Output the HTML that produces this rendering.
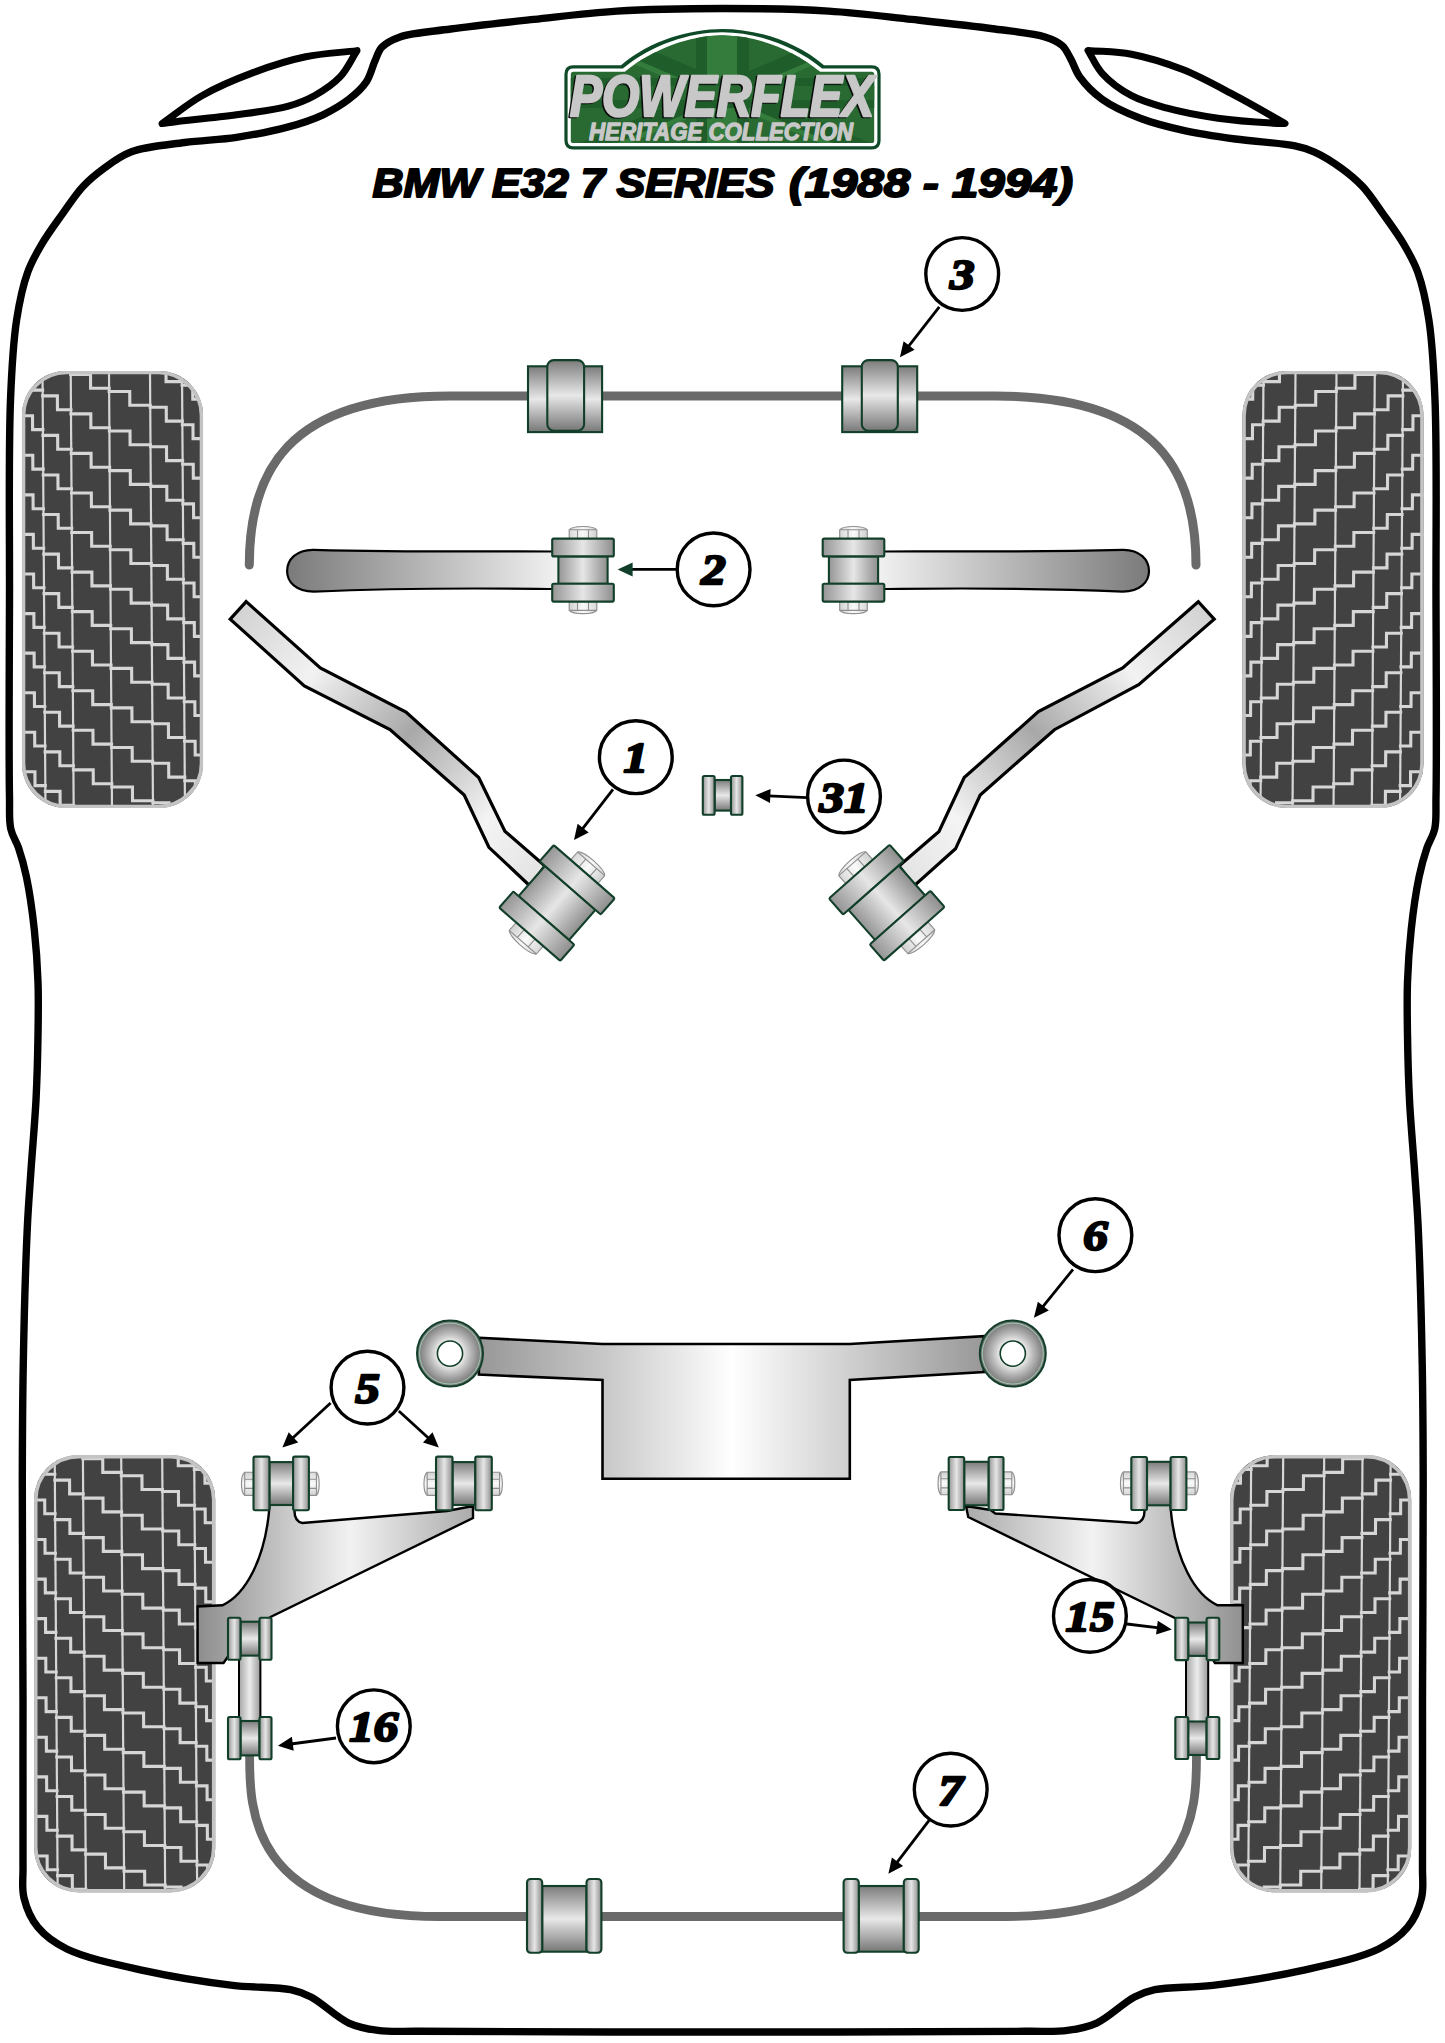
<!DOCTYPE html>
<html><head><meta charset="utf-8"><title>Powerflex BMW E32 7 Series</title>
<style>html,body{margin:0;padding:0;background:#fff;overflow:hidden}svg{display:block}</style>
</head><body>
<svg width="1445" height="2043" viewBox="0 0 1445 2043">
<defs>
<linearGradient id="gV" x1="0" y1="0" x2="0" y2="1">
 <stop offset="0" stop-color="#7c7c7c"/><stop offset="0.5" stop-color="#e8e8e8"/><stop offset="1" stop-color="#777"/>
</linearGradient>
<linearGradient id="gH" x1="0" y1="0" x2="1" y2="0">
 <stop offset="0" stop-color="#959595"/><stop offset="0.5" stop-color="#e6e6e6"/><stop offset="1" stop-color="#8e8e8e"/>
</linearGradient>
<linearGradient id="gBolt" x1="0" y1="0" x2="1" y2="0">
 <stop offset="0" stop-color="#d8d8d8"/><stop offset="0.5" stop-color="#fafafa"/><stop offset="1" stop-color="#d0d0d0"/>
</linearGradient>
<linearGradient id="gBoltV" x1="0" y1="0" x2="0" y2="1">
 <stop offset="0" stop-color="#d8d8d8"/><stop offset="0.5" stop-color="#fafafa"/><stop offset="1" stop-color="#d0d0d0"/>
</linearGradient>
<linearGradient id="gStrutL" x1="0" y1="0" x2="1" y2="0">
 <stop offset="0" stop-color="#7a7a7a"/><stop offset="1" stop-color="#fbfbfb"/>
</linearGradient>
<linearGradient id="gStrutR" x1="1" y1="0" x2="0" y2="0">
 <stop offset="0" stop-color="#7a7a7a"/><stop offset="1" stop-color="#fbfbfb"/>
</linearGradient>
<linearGradient id="gArmL" gradientUnits="userSpaceOnUse" x1="235" y1="605" x2="545" y2="880">
 <stop offset="0" stop-color="#d0d0d0"/><stop offset="0.25" stop-color="#f2f2f2"/><stop offset="0.52" stop-color="#a8a8a8"/><stop offset="0.8" stop-color="#f4f4f4"/><stop offset="1" stop-color="#e2e2e2"/>
</linearGradient>
<linearGradient id="gArmR" gradientUnits="userSpaceOnUse" x1="1210" y1="605" x2="900" y2="880">
 <stop offset="0" stop-color="#d0d0d0"/><stop offset="0.25" stop-color="#f2f2f2"/><stop offset="0.52" stop-color="#a8a8a8"/><stop offset="0.8" stop-color="#f4f4f4"/><stop offset="1" stop-color="#e2e2e2"/>
</linearGradient>
<linearGradient id="gSub" gradientUnits="userSpaceOnUse" x1="450" y1="0" x2="1013" y2="0">
 <stop offset="0" stop-color="#8c8c8c"/><stop offset="0.28" stop-color="#c9c9c9"/><stop offset="0.5" stop-color="#ffffff"/><stop offset="0.75" stop-color="#c6c6c6"/><stop offset="1" stop-color="#8c8c8c"/>
</linearGradient>
<radialGradient id="gRing" cx="0.5" cy="0.5" r="0.5">
 <stop offset="0.3" stop-color="#ffffff"/><stop offset="0.6" stop-color="#bdbdbd"/><stop offset="1" stop-color="#6f6f6f"/>
</radialGradient>
<linearGradient id="gRearArmL" gradientUnits="userSpaceOnUse" x1="200" y1="0" x2="500" y2="0">
 <stop offset="0" stop-color="#8f8f8f"/><stop offset="0.5" stop-color="#f2f2f2"/><stop offset="1" stop-color="#9c9c9c"/>
</linearGradient>
<linearGradient id="gRearArmR" gradientUnits="userSpaceOnUse" x1="1245" y1="0" x2="940" y2="0">
 <stop offset="0" stop-color="#8f8f8f"/><stop offset="0.5" stop-color="#f2f2f2"/><stop offset="1" stop-color="#9c9c9c"/>
</linearGradient>
<linearGradient id="gLink" x1="0" y1="0" x2="1" y2="0">
 <stop offset="0" stop-color="#a5a5a5"/><stop offset="0.5" stop-color="#ececec"/><stop offset="1" stop-color="#9a9a9a"/>
</linearGradient>
</defs>

<path d="M 722.8 8.5 C 687.4 8.5 649.9 9 616.8 11.1 C 587.4 12.9 561.5 16.4 533.8 19.4 C 506.1 22.4 475 25.7 450.7 29 C 431.7 31.6 412.4 32.6 400 36.9 C 392.1 39.7 386 42.8 381.8 47.3 C 378.2 51.1 377.2 56 374.9 61.1 C 372.1 67.3 370.5 75.7 366.3 81.9 C 362 88.4 355.7 94 349 99.2 C 341.5 105 332.5 110.3 323 114.8 C 312.5 119.7 301.2 123.4 288.4 126.9 C 273 131.1 253.9 134.7 236.5 137.3 C 219.3 139.9 202 140.1 184.6 142.5 C 167 144.9 145.9 146.4 131.5 151.8 C 120.3 156 112.1 162.4 103.8 168.4 C 96.1 174 89.6 179.3 83 186.4 C 75.6 194.3 69.1 204.6 62.3 214.1 C 55.3 223.9 47.4 234.5 41.5 244.6 C 36.1 253.8 31.6 261.5 27.7 272.2 C 22.8 285.7 19.4 301.9 16.6 320 C 13.1 343.1 11.8 367.3 10.5 400 C 8.4 451.6 9.7 533.6 9.5 600 C 9.3 665.9 8.7 759.3 9.5 797 C 9.8 812.2 8.8 819.9 10.8 829 C 12.4 836.3 16.1 840.8 18.5 847.8 C 21.4 856.3 24 865.6 26.4 876.8 C 29.5 891.7 32.4 912 34.3 929.6 C 36.2 947.1 37.4 964.5 38 982 C 38.6 999.6 38.3 1016.4 38 1035 C 37.7 1055.6 37.1 1077.9 36 1100 C 34.8 1122.9 32.5 1148 31 1170 C 29.7 1189.6 28.5 1203 27.4 1225.7 C 25.7 1261.3 24.1 1318.9 23.3 1362.8 C 22.5 1403.4 22.4 1434.8 22.3 1480 C 22.1 1541.9 22.9 1631.8 23 1700 C 23.1 1759.2 22.5 1832.2 23 1866 C 23.2 1880.8 21.5 1887.8 24 1898 C 26.5 1908.2 31 1918.9 37.8 1927.2 C 45 1936 54.1 1942.7 66.9 1949 C 86.1 1958.4 118.3 1964.8 145.3 1970.8 C 173.5 1977 206.4 1982.1 232.6 1985.3 C 253.9 1987.9 276.5 1986.7 290.7 1989.7 C 299.4 1991.6 303.5 1993.1 311 1997 C 322 2002.6 336.5 2017.5 348.8 2023.1 C 358.7 2027.6 367.3 2029 378 2030.4 C 390.6 2032.1 399.6 2031.1 420 2031.3 C 474.8 2032 621.8 2032 722.8 2032 C 823.7 2032 970.7 2032 1025.5 2031.3 C 1045.9 2031.1 1054.9 2032.1 1067.5 2030.4 C 1078.2 2029 1086.8 2027.6 1096.7 2023.1 C 1109 2017.5 1123.5 2002.6 1134.5 1997 C 1142 1993.1 1146.1 1991.6 1154.8 1989.7 C 1169 1986.7 1191.6 1987.9 1212.9 1985.3 C 1239.1 1982.1 1272 1977 1300.2 1970.8 C 1327.2 1964.8 1359.4 1958.4 1378.6 1949 C 1391.4 1942.7 1400.5 1936 1407.7 1927.2 C 1414.5 1918.9 1419 1908.2 1421.5 1898 C 1424 1887.8 1422.3 1880.8 1422.5 1866 C 1423 1832.2 1422.4 1759.2 1422.5 1700 C 1422.6 1631.8 1423.4 1541.9 1423.2 1480 C 1423.1 1434.8 1423 1403.4 1422.2 1362.8 C 1421.4 1318.9 1419.8 1261.3 1418.1 1225.7 C 1417 1203 1415.8 1189.6 1414.5 1170 C 1413 1148 1410.7 1122.9 1409.5 1100 C 1408.4 1077.9 1407.8 1055.6 1407.5 1035 C 1407.2 1016.4 1406.9 999.6 1407.5 982 C 1408.1 964.5 1409.3 947.1 1411.2 929.6 C 1413.1 912 1416 891.7 1419.1 876.8 C 1421.5 865.6 1424.1 856.3 1427 847.8 C 1429.4 840.8 1433.1 836.3 1434.7 829 C 1436.7 819.9 1435.7 812.2 1436 797 C 1436.8 759.3 1436.2 665.9 1436 600 C 1435.8 533.6 1437.1 451.6 1435 400 C 1433.7 367.3 1432.4 343.1 1428.9 320 C 1426.1 301.9 1422.7 285.7 1417.8 272.2 C 1413.9 261.5 1409.4 253.8 1404 244.6 C 1398.1 234.5 1390.2 223.9 1383.2 214.1 C 1376.4 204.6 1369.9 194.3 1362.5 186.4 C 1355.9 179.3 1349.4 174 1341.7 168.4 C 1333.4 162.4 1322.6 155.6 1314 151.8 C 1307.3 148.8 1303.2 147.6 1295 145.9 C 1280.7 142.9 1254.5 141.7 1235.3 139 C 1217.4 136.5 1199.8 134 1183.4 130.3 C 1168.2 126.9 1153.9 123.5 1140.2 118.2 C 1126.8 113.1 1112.6 106.8 1102.1 99.2 C 1093 92.6 1085 84.1 1079.6 76.7 C 1075.4 70.9 1074 64.8 1071 59.4 C 1068.2 54.5 1066.3 49.3 1062.3 45.6 C 1057.9 41.6 1052.5 39.3 1045 36.9 C 1032.8 33 1013.7 31.6 994.8 29 C 970.6 25.7 939.4 22.4 911.7 19.4 C 884 16.4 858.1 12.9 828.7 11.1 C 795.6 9 758.1 8.5 722.8 8.5 Z" fill="none" stroke="#000" stroke-width="7.4" stroke-linejoin="round"/>
<path d="M 162 123.6 C 175.3 114.3 187.3 104 201.9 95.7 C 217.7 86.7 236.3 78.9 253.8 72.4 C 270.9 66 288.3 60.4 305.7 56.8 C 322.7 53.2 339.9 52.7 357 50.6  L 357 50.6 C 351.4 59.3 347.3 69.2 340.3 76.7 C 333.2 84.3 323.4 90.7 314.4 95.7 C 306 100.3 298.7 103.2 288.4 106.1 C 274.2 110.1 254.5 112.3 236.5 114.8 C 217.1 117.5 189.1 120.1 176 121.7 C 169.7 122.5 166.7 123 162 123.6  Z" fill="#fff" stroke="#000" stroke-width="7" stroke-linejoin="round"/>
<path d="M 1088 50.5 C 1102.5 51.7 1116.5 51.3 1131.5 54.2 C 1148.2 57.4 1166.4 63.1 1183.4 69.8 C 1201 76.8 1218.3 86.7 1235.3 95.7 C 1252.2 104.6 1268.4 114.2 1285 123.5  L 1285 123.5 C 1281.1 123.4 1278.7 123.5 1273.4 123.2 C 1261.8 122.5 1236.1 120.8 1218 118.2 C 1200.3 115.7 1181.5 112.1 1166.1 107.9 C 1153.3 104.4 1142.2 101.4 1131.5 95.7 C 1120.8 89.9 1109.6 81.6 1102.1 73.3 C 1095.7 66.3 1092.7 58.1 1088 50.5  Z" fill="#fff" stroke="#000" stroke-width="7" stroke-linejoin="round"/>
<defs><clipPath id="tclip"><rect x="0" y="0" width="181" height="437" rx="44" ry="44"/></clipPath><g id="tyre"><rect x="0" y="0" width="181" height="437" rx="44" ry="44" fill="#424242"/><g clip-path="url(#tclip)"><g transform="skewX(0.39)" stroke="#d6d6d6" fill="none" stroke-linecap="square"><line x1="20.5" y1="0" x2="20.5" y2="437" stroke-width="2.2"/><line x1="48.7" y1="0" x2="48.7" y2="437" stroke-width="2.2"/><line x1="87" y1="0" x2="87" y2="437" stroke-width="2.2"/><line x1="128" y1="0" x2="128" y2="437" stroke-width="2.2"/><line x1="160" y1="0" x2="160" y2="437" stroke-width="2.2"/><path d="M0 -34.3 H10.2 V-20.5 H20.5 M0 5.2 H10.2 V19.1 H20.5 M0 44.8 H10.2 V58.6 H20.5 M0 84.3 H10.2 V98.1 H20.5 M0 123.9 H10.2 V137.7 H20.5 M0 163.4 H10.2 V177.2 H20.5 M0 203 H10.2 V216.8 H20.5 M0 242.6 H10.2 V256.4 H20.5 M0 282.1 H10.2 V295.9 H20.5 M0 321.7 H10.2 V335.5 H20.5 M0 361.2 H10.2 V375 H20.5 M0 400.8 H10.2 V414.6 H20.5 M0 440.3 H10.2 V454.1 H20.5 M20.5 -14.6 H35.2 V-0.8 H48.7 M20.5 24.9 H35.2 V38.7 H48.7 M20.5 64.4 H35.2 V78.2 H48.7 M20.5 104 H35.2 V117.8 H48.7 M20.5 143.5 H35.2 V157.3 H48.7 M20.5 183.1 H35.2 V196.9 H48.7 M20.5 222.6 H35.2 V236.4 H48.7 M20.5 262.2 H35.2 V276 H48.7 M20.5 301.8 H35.2 V315.6 H48.7 M20.5 341.3 H35.2 V355.1 H48.7 M20.5 380.9 H35.2 V394.7 H48.7 M20.5 420.4 H35.2 V434.2 H48.7 M20.5 460 H35.2 V473.8 H48.7 M48.7 -36.2 H68.5 V-22.4 H87 M48.7 3.4 H68.5 V17.2 H87 M48.7 42.9 H68.5 V56.7 H87 M48.7 82.4 H68.5 V96.2 H87 M48.7 122 H68.5 V135.8 H87 M48.7 161.5 H68.5 V175.3 H87 M48.7 201.1 H68.5 V214.9 H87 M48.7 240.6 H68.5 V254.4 H87 M48.7 280.2 H68.5 V294 H87 M48.7 319.8 H68.5 V333.6 H87 M48.7 359.3 H68.5 V373.1 H87 M48.7 398.9 H68.5 V412.7 H87 M48.7 438.4 H68.5 V452.2 H87 M87 -19 H107.6 V-5.2 H128 M87 20.5 H107.6 V34.3 H128 M87 60 H107.6 V73.8 H128 M87 99.6 H107.6 V113.4 H128 M87 139.1 H107.6 V152.9 H128 M87 178.7 H107.6 V192.5 H128 M87 218.2 H107.6 V232.1 H128 M87 257.8 H107.6 V271.6 H128 M87 297.4 H107.6 V311.2 H128 M87 336.9 H107.6 V350.7 H128 M87 376.5 H107.6 V390.3 H128 M87 416 H107.6 V429.8 H128 M87 455.6 H107.6 V469.4 H128 M128 -3.2 H144 V10.6 H160 M128 36.3 H144 V50.1 H160 M128 75.8 H144 V89.6 H160 M128 115.4 H144 V129.2 H160 M128 154.9 H144 V168.8 H160 M128 194.5 H144 V208.3 H160 M128 234.1 H144 V247.9 H160 M128 273.6 H144 V287.4 H160 M128 313.2 H144 V327 H160 M128 352.7 H144 V366.5 H160 M128 392.3 H144 V406.1 H160 M128 431.8 H144 V445.6 H160 M128 471.4 H144 V485.2 H160 M160 -25.3 H170.6 V-11.5 H181 M160 14.2 H170.6 V28.1 H181 M160 53.8 H170.6 V67.6 H181 M160 93.3 H170.6 V107.1 H181 M160 132.9 H170.6 V146.7 H181 M160 172.4 H170.6 V186.2 H181 M160 212 H170.6 V225.8 H181 M160 251.6 H170.6 V265.4 H181 M160 291.1 H170.6 V304.9 H181 M160 330.7 H170.6 V344.5 H181 M160 370.2 H170.6 V384 H181 M160 409.8 H170.6 V423.6 H181 M160 449.3 H170.6 V463.1 H181 " stroke-width="3.1"/></g></g><rect x="1.6" y="1.6" width="177.8" height="433.8" rx="43" ry="43" fill="none" stroke="#c4c4c4" stroke-width="3.4"/></g></defs>
<use href="#tyre" x="22" y="371"/>
<use href="#tyre" transform="translate(1423.5 371) scale(-1 1)"/>
<use href="#tyre" x="34.2" y="1455.2"/>
<use href="#tyre" transform="translate(1411.2 1455.2) scale(-1 1)"/>
<path d="M 249.3 565 C 249.3 475, 284.4 396, 450 396 L 995.5 396 C 1161 396, 1196 475, 1196 565" fill="none" stroke="#6a6a6a" stroke-width="9" stroke-linecap="round"/>
<rect x="528" y="366.3" width="74.1" height="65.8" fill="url(#gV)" stroke="#123f29" stroke-width="2.1"/><rect x="547.3" y="360.1" width="36.8" height="70.6" rx="6.5" fill="url(#gV)" stroke="#123f29" stroke-width="2.1"/>
<rect x="842.2" y="366.3" width="75" height="65.8" fill="url(#gV)" stroke="#123f29" stroke-width="2.1"/><rect x="861.8" y="360.1" width="36" height="70.6" rx="6.5" fill="url(#gV)" stroke="#123f29" stroke-width="2.1"/>
<path d="M 580 551.5 L 552 551.5 C 500 551, 420 552.5, 313.7 549.8 C 296 549.5, 287.1 560, 287.1 571 C 287.1 582, 296 591.6, 313.7 591.6 C 420 587, 500 588.5, 552 589 L 580 589 Z" fill="url(#gStrutL)" stroke="#000" stroke-width="2.2"/>
<path d="M 856 551.5 L 884.5 551.5 C 936 551, 1016 552.5, 1122.8 549.8 C 1140 549.5, 1149 560, 1149 571 C 1149 582, 1140 591.6, 1122.8 591.6 C 1016 587, 936 588.5, 884.5 589 L 856 589 Z" fill="url(#gStrutR)" stroke="#000" stroke-width="2.2"/>
<g transform="translate(583 570.1) rotate(0)"><g transform="translate(0 -31.5) rotate(0)"><path d="M -13.8 1 L -13.8 -8.8 C -10.4 -13.2 10.4 -13.2 13.8 -8.8 L 13.8 1 Z" fill="url(#gBolt)" stroke="#8f8f8f" stroke-width="1.15"/><path d="M -13.8 -8.8 L 13.8 -8.8 M -5.5 -8.8 L -5.5 1 M 5.5 -8.8 L 5.5 1" stroke="#8f8f8f" stroke-width="1.1" fill="none"/></g><g transform="translate(0 31.5) rotate(180)"><path d="M -13.8 1 L -13.8 -8.8 C -10.4 -13.2 10.4 -13.2 13.8 -8.8 L 13.8 1 Z" fill="url(#gBolt)" stroke="#8f8f8f" stroke-width="1.15"/><path d="M -13.8 -8.8 L 13.8 -8.8 M -5.5 -8.8 L -5.5 1 M 5.5 -8.8 L 5.5 1" stroke="#8f8f8f" stroke-width="1.1" fill="none"/></g><rect x="-24.6" y="-13.7" width="49.2" height="27.4" fill="url(#gH)" stroke="#123f29" stroke-width="2.1"/><rect x="-30.8" y="-31.5" width="61.6" height="17.8" rx="1.5" fill="url(#gH)" stroke="#123f29" stroke-width="2.1"/><rect x="-30.8" y="13.7" width="61.6" height="17.8" rx="1.5" fill="url(#gH)" stroke="#123f29" stroke-width="2.1"/></g>
<g transform="translate(853.5 570.1) rotate(0)"><g transform="translate(0 -31.5) rotate(0)"><path d="M -13.8 1 L -13.8 -8.8 C -10.4 -13.2 10.4 -13.2 13.8 -8.8 L 13.8 1 Z" fill="url(#gBolt)" stroke="#8f8f8f" stroke-width="1.15"/><path d="M -13.8 -8.8 L 13.8 -8.8 M -5.5 -8.8 L -5.5 1 M 5.5 -8.8 L 5.5 1" stroke="#8f8f8f" stroke-width="1.1" fill="none"/></g><g transform="translate(0 31.5) rotate(180)"><path d="M -13.8 1 L -13.8 -8.8 C -10.4 -13.2 10.4 -13.2 13.8 -8.8 L 13.8 1 Z" fill="url(#gBolt)" stroke="#8f8f8f" stroke-width="1.15"/><path d="M -13.8 -8.8 L 13.8 -8.8 M -5.5 -8.8 L -5.5 1 M 5.5 -8.8 L 5.5 1" stroke="#8f8f8f" stroke-width="1.1" fill="none"/></g><rect x="-24.6" y="-13.7" width="49.2" height="27.4" fill="url(#gH)" stroke="#123f29" stroke-width="2.1"/><rect x="-30.8" y="-31.5" width="61.6" height="17.8" rx="1.5" fill="url(#gH)" stroke="#123f29" stroke-width="2.1"/><rect x="-30.8" y="13.7" width="61.6" height="17.8" rx="1.5" fill="url(#gH)" stroke="#123f29" stroke-width="2.1"/></g>
<path d="M 246.2 601.6 L 320.3 667.9 L 406 712.1 L 478.7 777.5 L 504.9 831.3 L 545 866 L 530 886 L 488.9 847.3 L 464.2 795 L 390 729.5 L 304.3 685.9 L 230.2 619.1 Z" fill="url(#gArmL)" stroke="#000" stroke-width="3.2" stroke-linejoin="miter"/>
<path d="M 1198.3 601.7 L 1122.7 668 L 1038.4 711.6 L 964.2 777.6 L 939 831.4 L 899 866 L 914 886 L 955.5 848.8 L 980.2 795 L 1054.4 729.7 L 1138.7 684.6 L 1214.2 619.2 Z" fill="url(#gArmR)" stroke="#000" stroke-width="3.2" stroke-linejoin="miter"/>
<g transform="translate(557 903) rotate(41.1)"><g transform="translate(0 -41.5) rotate(0)"><path d="M -18 1 L -18 -10.5 C -13.5 -15.7 13.5 -15.7 18 -10.5 L 18 1 Z" fill="url(#gBolt)" stroke="#8f8f8f" stroke-width="1.15"/><path d="M -18 -10.5 L 18 -10.5 M -7.2 -10.5 L -7.2 1 M 7.2 -10.5 L 7.2 1" stroke="#8f8f8f" stroke-width="1.1" fill="none"/></g><g transform="translate(0 41.5) rotate(180)"><path d="M -18 1 L -18 -10.5 C -13.5 -15.7 13.5 -15.7 18 -10.5 L 18 1 Z" fill="url(#gBolt)" stroke="#8f8f8f" stroke-width="1.15"/><path d="M -18 -10.5 L 18 -10.5 M -7.2 -10.5 L -7.2 1 M 7.2 -10.5 L 7.2 1" stroke="#8f8f8f" stroke-width="1.1" fill="none"/></g><rect x="-33.5" y="-20" width="67" height="40" fill="url(#gH)" stroke="#123f29" stroke-width="2.1"/><rect x="-40.5" y="-41.5" width="81" height="21.5" rx="1.5" fill="url(#gH)" stroke="#123f29" stroke-width="2.1"/><rect x="-40.5" y="20" width="81" height="21.5" rx="1.5" fill="url(#gH)" stroke="#123f29" stroke-width="2.1"/></g>
<g transform="translate(886.8 902.7) rotate(-41.5)"><g transform="translate(0 -41.5) rotate(0)"><path d="M -18 1 L -18 -10.5 C -13.5 -15.7 13.5 -15.7 18 -10.5 L 18 1 Z" fill="url(#gBolt)" stroke="#8f8f8f" stroke-width="1.15"/><path d="M -18 -10.5 L 18 -10.5 M -7.2 -10.5 L -7.2 1 M 7.2 -10.5 L 7.2 1" stroke="#8f8f8f" stroke-width="1.1" fill="none"/></g><g transform="translate(0 41.5) rotate(180)"><path d="M -18 1 L -18 -10.5 C -13.5 -15.7 13.5 -15.7 18 -10.5 L 18 1 Z" fill="url(#gBolt)" stroke="#8f8f8f" stroke-width="1.15"/><path d="M -18 -10.5 L 18 -10.5 M -7.2 -10.5 L -7.2 1 M 7.2 -10.5 L 7.2 1" stroke="#8f8f8f" stroke-width="1.1" fill="none"/></g><rect x="-33.5" y="-20" width="67" height="40" fill="url(#gH)" stroke="#123f29" stroke-width="2.1"/><rect x="-40.5" y="-41.5" width="81" height="21.5" rx="1.5" fill="url(#gH)" stroke="#123f29" stroke-width="2.1"/><rect x="-40.5" y="20" width="81" height="21.5" rx="1.5" fill="url(#gH)" stroke="#123f29" stroke-width="2.1"/></g>
<rect x="714.6" y="780" width="16.4" height="30.6" fill="url(#gV)" stroke="#123f29" stroke-width="2.1"/>
<rect x="702.8" y="776" width="11.8" height="38.8" rx="1.5" fill="url(#gH)" stroke="#123f29" stroke-width="2.1"/>
<rect x="731" y="776" width="11.4" height="38.8" rx="1.5" fill="url(#gH)" stroke="#123f29" stroke-width="2.1"/>
<path d="M 478.9 1337.8 L 602.5 1344 L 849.8 1344 L 983.9 1336.2 L 983.9 1372 L 849.8 1380 L 849.8 1478.8 L 602.5 1478.8 L 602.5 1380 L 478.9 1374.6 Z" fill="url(#gSub)" stroke="#000" stroke-width="2.6" stroke-linejoin="miter"/>
<circle cx="450" cy="1353.6" r="33" fill="url(#gRing)" stroke="#123f29" stroke-width="2"/>
<circle cx="450" cy="1353.6" r="30.5" fill="none" stroke="#9fc9b0" stroke-width="1"/>
<circle cx="450" cy="1353.6" r="12.6" fill="#fff" stroke="#123f29" stroke-width="1.6"/>
<circle cx="1012.8" cy="1353.6" r="33" fill="url(#gRing)" stroke="#123f29" stroke-width="2"/>
<circle cx="1012.8" cy="1353.6" r="30.5" fill="none" stroke="#9fc9b0" stroke-width="1"/>
<circle cx="1012.8" cy="1353.6" r="12.6" fill="#fff" stroke="#123f29" stroke-width="1.6"/>
<path d="M 269.4 1495 L 269.4 1508 C 265 1560, 245 1595, 222.4 1605.3 L 197.6 1606.5 L 197.6 1663 L 223.5 1663 L 229 1655 L 270.6 1617 L 473 1518 L 473 1506 L 447 1511 L 302.4 1523 C 296 1522, 294 1516, 294.5 1508 L 294.5 1495 Z" fill="url(#gRearArmL)" stroke="#000" stroke-width="2.4" stroke-linejoin="miter"/>
<path d="M 1170.6 1495 L 1170.6 1508 C 1175 1560, 1195 1595, 1217.6 1605.3 L 1242.8 1605.3 L 1242.8 1663 L 1215 1663 L 1210 1655 L 1175.3 1618.2 L 968.2 1517 L 966 1506 L 990.6 1510 L 995.3 1513.5 L 1136.5 1523 C 1143 1522, 1145 1516, 1144.5 1508 L 1144.5 1495 Z" fill="url(#gRearArmR)" stroke="#000" stroke-width="2.4" stroke-linejoin="miter"/>
<g transform="translate(253.5 1483.8) rotate(-90)"><path d="M -11.6 1 L -11.6 -8.8 C -8.7 -13.1 8.7 -13.1 11.6 -8.8 L 11.6 1 Z" fill="url(#gBolt)" stroke="#8f8f8f" stroke-width="1.15"/><path d="M -11.6 -8.8 L 11.6 -8.8 M -4.6 -8.8 L -4.6 1 M 4.6 -8.8 L 4.6 1" stroke="#8f8f8f" stroke-width="1.1" fill="none"/></g><g transform="translate(308.9 1483.8) rotate(90)"><path d="M -11.6 1 L -11.6 -7.5 C -8.7 -11.2 8.7 -11.2 11.6 -7.5 L 11.6 1 Z" fill="url(#gBolt)" stroke="#8f8f8f" stroke-width="1.15"/><path d="M -11.6 -7.5 L 11.6 -7.5 M -4.6 -7.5 L -4.6 1 M 4.6 -7.5 L 4.6 1" stroke="#8f8f8f" stroke-width="1.1" fill="none"/></g><rect x="269.4" y="1462.1" width="23.7" height="42.9" fill="url(#gV)" stroke="#123f29" stroke-width="2.1"/><rect x="253.5" y="1456.6" width="15.9" height="53.6" rx="1.6" fill="url(#gH)" stroke="#123f29" stroke-width="2.1"/><rect x="293.1" y="1456.6" width="15.8" height="53.6" rx="1.6" fill="url(#gH)" stroke="#123f29" stroke-width="2.1"/>
<g transform="translate(436 1483.8) rotate(-90)"><path d="M -11.6 1 L -11.6 -8.8 C -8.7 -13.1 8.7 -13.1 11.6 -8.8 L 11.6 1 Z" fill="url(#gBolt)" stroke="#8f8f8f" stroke-width="1.15"/><path d="M -11.6 -8.8 L 11.6 -8.8 M -4.6 -8.8 L -4.6 1 M 4.6 -8.8 L 4.6 1" stroke="#8f8f8f" stroke-width="1.1" fill="none"/></g><g transform="translate(491.8 1483.8) rotate(90)"><path d="M -11.6 1 L -11.6 -7.7 C -8.7 -11.5 8.7 -11.5 11.6 -7.7 L 11.6 1 Z" fill="url(#gBolt)" stroke="#8f8f8f" stroke-width="1.15"/><path d="M -11.6 -7.7 L 11.6 -7.7 M -4.6 -7.7 L -4.6 1 M 4.6 -7.7 L 4.6 1" stroke="#8f8f8f" stroke-width="1.1" fill="none"/></g><rect x="452.5" y="1462.1" width="22.8" height="42.9" fill="url(#gV)" stroke="#123f29" stroke-width="2.1"/><rect x="436" y="1456.6" width="16.5" height="53.6" rx="1.6" fill="url(#gH)" stroke="#123f29" stroke-width="2.1"/><rect x="475.3" y="1456.6" width="16.5" height="53.6" rx="1.6" fill="url(#gH)" stroke="#123f29" stroke-width="2.1"/>
<g transform="translate(948.7 1483.3) rotate(-90)"><path d="M -11.4 1 L -11.4 -7.8 C -8.5 -11.6 8.5 -11.6 11.4 -7.8 L 11.4 1 Z" fill="url(#gBolt)" stroke="#8f8f8f" stroke-width="1.15"/><path d="M -11.4 -7.8 L 11.4 -7.8 M -4.6 -7.8 L -4.6 1 M 4.6 -7.8 L 4.6 1" stroke="#8f8f8f" stroke-width="1.1" fill="none"/></g><g transform="translate(1003.5 1483.3) rotate(90)"><path d="M -11.4 1 L -11.4 -8.3 C -8.5 -12.3 8.5 -12.3 11.4 -8.3 L 11.4 1 Z" fill="url(#gBolt)" stroke="#8f8f8f" stroke-width="1.15"/><path d="M -11.4 -8.3 L 11.4 -8.3 M -4.6 -8.3 L -4.6 1 M 4.6 -8.3 L 4.6 1" stroke="#8f8f8f" stroke-width="1.1" fill="none"/></g><rect x="964.2" y="1461.8" width="24.5" height="43.5" fill="url(#gV)" stroke="#123f29" stroke-width="2.1"/><rect x="948.7" y="1457" width="15.5" height="53" rx="1.6" fill="url(#gH)" stroke="#123f29" stroke-width="2.1"/><rect x="988.7" y="1457" width="14.8" height="53" rx="1.6" fill="url(#gH)" stroke="#123f29" stroke-width="2.1"/>
<g transform="translate(1131.3 1483.3) rotate(-90)"><path d="M -11.4 1 L -11.4 -7.9 C -8.5 -11.8 8.5 -11.8 11.4 -7.9 L 11.4 1 Z" fill="url(#gBolt)" stroke="#8f8f8f" stroke-width="1.15"/><path d="M -11.4 -7.9 L 11.4 -7.9 M -4.6 -7.9 L -4.6 1 M 4.6 -7.9 L 4.6 1" stroke="#8f8f8f" stroke-width="1.1" fill="none"/></g><g transform="translate(1186.4 1483.3) rotate(90)"><path d="M -11.4 1 L -11.4 -8.7 C -8.5 -13 8.5 -13 11.4 -8.7 L 11.4 1 Z" fill="url(#gBolt)" stroke="#8f8f8f" stroke-width="1.15"/><path d="M -11.4 -8.7 L 11.4 -8.7 M -4.6 -8.7 L -4.6 1 M 4.6 -8.7 L 4.6 1" stroke="#8f8f8f" stroke-width="1.1" fill="none"/></g><rect x="1147" y="1461.8" width="23.6" height="43.5" fill="url(#gV)" stroke="#123f29" stroke-width="2.1"/><rect x="1131.3" y="1457" width="15.7" height="53" rx="1.6" fill="url(#gH)" stroke="#123f29" stroke-width="2.1"/><rect x="1170.6" y="1457" width="15.8" height="53" rx="1.6" fill="url(#gH)" stroke="#123f29" stroke-width="2.1"/>
<path d="M 249.6 1755 C 249.6 1806, 248 1916.5, 440 1916.5 L 1006 1916.5 C 1198 1916.5, 1196.5 1806, 1196.5 1755" fill="none" stroke="#6a6a6a" stroke-width="8.8"/>
<rect x="239" y="1645" width="21.4" height="85" fill="url(#gLink)" stroke="#000" stroke-width="2"/>
<rect x="1186" y="1645" width="22.2" height="85" fill="url(#gLink)" stroke="#000" stroke-width="2"/>
<rect x="240.5" y="1621.7" width="19" height="33.9" fill="url(#gV)" stroke="#123f29" stroke-width="2.1"/><rect x="228" y="1617.8" width="12.5" height="42" rx="1.6" fill="url(#gH)" stroke="#123f29" stroke-width="2.1"/><rect x="259.5" y="1617.8" width="12" height="42" rx="1.6" fill="url(#gH)" stroke="#123f29" stroke-width="2.1"/>
<rect x="240.5" y="1721" width="19" height="34.4" fill="url(#gV)" stroke="#123f29" stroke-width="2.1"/><rect x="228" y="1717" width="12.5" height="42.3" rx="1.6" fill="url(#gH)" stroke="#123f29" stroke-width="2.1"/><rect x="259.5" y="1717" width="12" height="42.3" rx="1.6" fill="url(#gH)" stroke="#123f29" stroke-width="2.1"/>
<rect x="1188.2" y="1622.5" width="18.4" height="33.4" fill="url(#gV)" stroke="#123f29" stroke-width="2.1"/><rect x="1175.3" y="1617.8" width="12.9" height="42.3" rx="1.6" fill="url(#gH)" stroke="#123f29" stroke-width="2.1"/><rect x="1206.6" y="1617.8" width="12.7" height="42.3" rx="1.6" fill="url(#gH)" stroke="#123f29" stroke-width="2.1"/>
<rect x="1188.2" y="1721.5" width="18.4" height="33.5" fill="url(#gV)" stroke="#123f29" stroke-width="2.1"/><rect x="1175.3" y="1717" width="12.9" height="42" rx="1.6" fill="url(#gH)" stroke="#123f29" stroke-width="2.1"/><rect x="1206.6" y="1717" width="12.7" height="42" rx="1.6" fill="url(#gH)" stroke="#123f29" stroke-width="2.1"/>
<rect x="542.2" y="1886" width="44.3" height="65.7" fill="url(#gV)" stroke="#123f29" stroke-width="2.1"/><rect x="527" y="1879" width="15.2" height="73.7" rx="3.5" fill="url(#gH)" stroke="#123f29" stroke-width="2.1"/><rect x="586.5" y="1879" width="14.9" height="73.7" rx="3.5" fill="url(#gH)" stroke="#123f29" stroke-width="2.1"/>
<rect x="858.8" y="1886" width="45" height="65.7" fill="url(#gV)" stroke="#123f29" stroke-width="2.1"/><rect x="843.6" y="1879" width="15.2" height="73.7" rx="3.5" fill="url(#gH)" stroke="#123f29" stroke-width="2.1"/><rect x="903.8" y="1879" width="14.9" height="73.7" rx="3.5" fill="url(#gH)" stroke="#123f29" stroke-width="2.1"/>
<path d="M 573.4 149.4 L 871.6 149.4 Q 880.6 149.4 880.6 140.4 L 880.6 74.3 Q 880.6 65.3 871.6 65.3 L 824 65.3 C 795 40.3 755 29 722.5 29 C 690 29 650 40.3 621 65.3 L 573.4 65.3 Q 564.4 65.3 564.4 74.3 L 564.4 140.4 Q 564.4 149.4 573.4 149.4 Z" fill="#0e4a27"/>
<path d="M 573.4 146.2 L 871.6 146.2 Q 877.4 146.2 877.4 140.4 L 877.4 74.3 Q 877.4 68.5 871.6 68.5 L 822.1 68.5 C 793.1 44.5 755.6 32.2 722.5 32.2 C 689.4 32.2 651.9 44.5 622.9 68.5 L 573.4 68.5 Q 567.6 68.5 567.6 74.3 L 567.6 140.4 Q 567.6 146.2 573.4 146.2 Z" fill="#fff"/>
<defs><clipPath id="plateclip"><path d="M 573.4 143 L 871.6 143 Q 874.2 143 874.2 140.4 L 874.2 74.3 Q 874.2 71.7 871.6 71.7 L 820.2 71.7 C 791.2 48.6 756.3 35.4 722.5 35.4 C 688.7 35.4 653.8 48.6 624.8 71.7 L 573.4 71.7 Q 570.8 71.7 570.8 74.3 L 570.8 140.4 Q 570.8 143 573.4 143 Z"/></clipPath></defs>
<g clip-path="url(#plateclip)"><rect x="560" y="20" width="330" height="140" fill="#296a32"/><path d="M 560 20 L 890 160 M 890 20 L 560 160" stroke="#1f5d2a" stroke-width="16"/><path d="M 560 30 L 890 170 M 890 30 L 560 170" stroke="#347c3c" stroke-width="5"/><rect x="696" y="20" width="53" height="140" fill="#1f5d2a"/><rect x="707" y="20" width="30" height="140" fill="#347c3c"/><rect x="560" y="78" width="330" height="30" fill="#1f5d2a"/><rect x="560" y="86" width="330" height="14" fill="#296a32"/></g>
<text x="570" y="115.5" style="font-family:&quot;Liberation Sans&quot;,sans-serif;font-weight:bold;font-style:italic;font-size:57px" fill="#0a0a0a" stroke="#0a0a0a" stroke-width="2.6" stroke-linejoin="round" textLength="304" lengthAdjust="spacingAndGlyphs" transform="translate(-1.6 1.8)">POWERFLEX</text>
<text x="570" y="115.5" style="font-family:&quot;Liberation Sans&quot;,sans-serif;font-weight:bold;font-style:italic;font-size:57px" fill="#c8c8c8" stroke="#c8c8c8" stroke-width="2.6" stroke-linejoin="round" textLength="304" lengthAdjust="spacingAndGlyphs">POWERFLEX</text>
<text x="589" y="140" style="font-family:&quot;Liberation Sans&quot;,sans-serif;font-weight:bold;font-style:italic;font-size:23.5px" fill="#c8c8c8" stroke="#c8c8c8" stroke-width="1.3" stroke-linejoin="round" textLength="264" lengthAdjust="spacingAndGlyphs">HERITAGE COLLECTION</text>
<text x="372.5" y="197.4" style="font-family:&quot;Liberation Sans&quot;,sans-serif;font-weight:bold;font-style:italic;font-size:40px" fill="#000" stroke="#000" stroke-width="2" stroke-linejoin="round" lengthAdjust="spacingAndGlyphs" textLength="402">BMW E32 7 SERIES</text>
<text x="789" y="197.4" style="font-family:&quot;Liberation Sans&quot;,sans-serif;font-weight:bold;font-style:italic;font-size:40px" fill="#000" stroke="#000" stroke-width="2" stroke-linejoin="round" lengthAdjust="spacingAndGlyphs" textLength="284">(1988 - 1994)</text>
<line x1="613" y1="789.4" x2="581.9" y2="829.7" stroke="#000" stroke-width="2.8"/><path d="M 574 840 L 577.6 823.8 L 588.7 832.4 Z" fill="#000"/><circle cx="635.8" cy="757.2" r="36.4" fill="#fff" stroke="#000" stroke-width="3.4"/><text x="0" y="15" transform="translate(635.8 757.2) scale(1.14 1)" text-anchor="middle" style="font-family:&quot;Liberation Serif&quot;,serif;font-weight:bold;font-style:italic;font-size:43px" fill="#000" stroke="#000" stroke-width="2.4" stroke-linejoin="round">1</text>
<line x1="676" y1="569.4" x2="630.6" y2="569.4" stroke="#000" stroke-width="2.8"/><path d="M 617.6 569.4 L 632.6 562.4 L 632.6 576.4 Z" fill="#123f29"/><circle cx="713.6" cy="569.4" r="36.4" fill="#fff" stroke="#000" stroke-width="3.4"/><text x="0" y="15" transform="translate(713.6 569.4) scale(1.14 1)" text-anchor="middle" style="font-family:&quot;Liberation Serif&quot;,serif;font-weight:bold;font-style:italic;font-size:43px" fill="#000" stroke="#000" stroke-width="2.4" stroke-linejoin="round">2</text>
<line x1="939.3" y1="306.8" x2="907.9" y2="347.1" stroke="#000" stroke-width="2.8"/><path d="M 899.9 357.3 L 903.6 341.2 L 914.6 349.8 Z" fill="#000"/><circle cx="962.2" cy="274" r="36.4" fill="#fff" stroke="#000" stroke-width="3.4"/><text x="0" y="15" transform="translate(962.2 274) scale(1.14 1)" text-anchor="middle" style="font-family:&quot;Liberation Serif&quot;,serif;font-weight:bold;font-style:italic;font-size:43px" fill="#000" stroke="#000" stroke-width="2.4" stroke-linejoin="round">3</text>
<line x1="807" y1="797.6" x2="768.3" y2="795.9" stroke="#000" stroke-width="2.8"/><path d="M 755.3 795.3 L 770.6 789 L 770 803 Z" fill="#000"/><circle cx="844" cy="796.5" r="36.4" fill="#fff" stroke="#000" stroke-width="3.4"/><text x="0" y="15" transform="translate(844 796.5) scale(1.14 1)" text-anchor="middle" style="font-family:&quot;Liberation Serif&quot;,serif;font-weight:bold;font-style:italic;font-size:43px" fill="#000" stroke="#000" stroke-width="2.4" stroke-linejoin="round">31</text>
<line x1="330.6" y1="1403" x2="291.9" y2="1438.8" stroke="#000" stroke-width="2.8"/><path d="M 282.4 1447.6 L 288.7 1432.3 L 298.2 1442.6 Z" fill="#000"/><line x1="398.8" y1="1411" x2="429.2" y2="1438.8" stroke="#000" stroke-width="2.8"/><path d="M 438.8 1447.6 L 423 1442.6 L 432.5 1432.3 Z" fill="#000"/><circle cx="367.5" cy="1387.6" r="36.4" fill="#fff" stroke="#000" stroke-width="3.4"/><text x="0" y="15" transform="translate(367.5 1387.6) scale(1.14 1)" text-anchor="middle" style="font-family:&quot;Liberation Serif&quot;,serif;font-weight:bold;font-style:italic;font-size:43px" fill="#000" stroke="#000" stroke-width="2.4" stroke-linejoin="round">5</text>
<line x1="1073" y1="1269.4" x2="1042.1" y2="1307.7" stroke="#000" stroke-width="2.8"/><path d="M 1033.9 1317.8 L 1037.9 1301.7 L 1048.8 1310.5 Z" fill="#000"/><circle cx="1095.4" cy="1235.2" r="36.4" fill="#fff" stroke="#000" stroke-width="3.4"/><text x="0" y="15" transform="translate(1095.4 1235.2) scale(1.14 1)" text-anchor="middle" style="font-family:&quot;Liberation Serif&quot;,serif;font-weight:bold;font-style:italic;font-size:43px" fill="#000" stroke="#000" stroke-width="2.4" stroke-linejoin="round">6</text>
<line x1="929.1" y1="1820.4" x2="896.3" y2="1863.4" stroke="#000" stroke-width="2.8"/><path d="M 888.4 1873.7 L 891.9 1857.5 L 903.1 1866 Z" fill="#000"/><circle cx="950.7" cy="1789.6" r="36.4" fill="#fff" stroke="#000" stroke-width="3.4"/><text x="0" y="15" transform="translate(950.7 1789.6) scale(1.14 1)" text-anchor="middle" style="font-family:&quot;Liberation Serif&quot;,serif;font-weight:bold;font-style:italic;font-size:43px" fill="#000" stroke="#000" stroke-width="2.4" stroke-linejoin="round">7</text>
<line x1="1127" y1="1624" x2="1158.9" y2="1627.9" stroke="#000" stroke-width="2.8"/><path d="M 1171.8 1629.5 L 1156.1 1634.6 L 1157.8 1620.7 Z" fill="#000"/><circle cx="1089.9" cy="1615.9" r="36.4" fill="#fff" stroke="#000" stroke-width="3.4"/><text x="0" y="15" transform="translate(1089.9 1615.9) scale(1.14 1)" text-anchor="middle" style="font-family:&quot;Liberation Serif&quot;,serif;font-weight:bold;font-style:italic;font-size:43px" fill="#000" stroke="#000" stroke-width="2.4" stroke-linejoin="round">15</text>
<line x1="336" y1="1738" x2="290.8" y2="1744" stroke="#000" stroke-width="2.8"/><path d="M 277.9 1745.7 L 291.9 1736.8 L 293.7 1750.7 Z" fill="#000"/><circle cx="373.8" cy="1726.3" r="36.4" fill="#fff" stroke="#000" stroke-width="3.4"/><text x="0" y="15" transform="translate(373.8 1726.3) scale(1.14 1)" text-anchor="middle" style="font-family:&quot;Liberation Serif&quot;,serif;font-weight:bold;font-style:italic;font-size:43px" fill="#000" stroke="#000" stroke-width="2.4" stroke-linejoin="round">16</text></svg>
</body></html>
